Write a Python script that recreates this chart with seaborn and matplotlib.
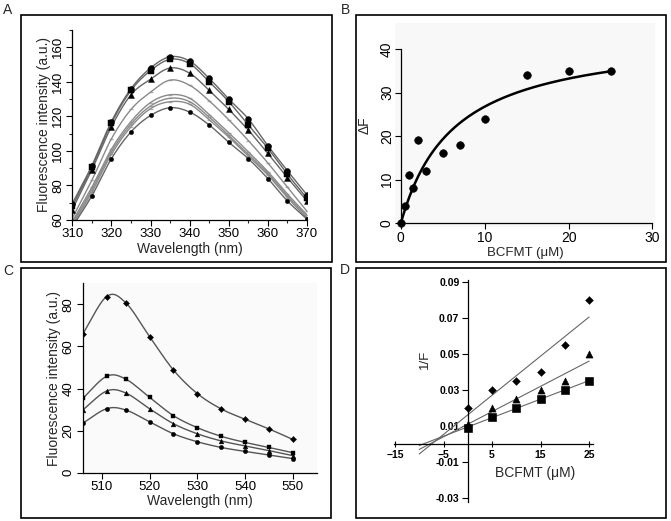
import numpy as np
import matplotlib
matplotlib.use("Agg")
import matplotlib.pyplot as plt
from matplotlib.patches import Rectangle
from matplotlib.ticker import MultipleLocator
import seaborn as sns

# ---- panel A: tryptophan emission spectra ----
wl_a = [310, 315, 320, 325, 330, 335, 340, 345, 350, 355, 360, 365, 370]
a_circle = [69.5, 91.5, 117, 136, 148, 154.5, 152, 142, 130, 118.5, 103, 88.5, 74.5]
a_square = [68, 90.5, 116, 135, 146.5, 153, 150.5, 140, 128.5, 115, 101.5, 86.5, 72.5]
a_triangle = [66, 89, 114, 132.5, 141.5, 148, 145, 135, 124, 112, 98.5, 84.5, 71]
a_gray1 = [61, 83, 107, 124, 134, 141, 138, 129, 118, 106, 93, 79, 65]
a_gray2 = [59, 79, 101, 117, 128, 132.5, 130.5, 121, 110.5, 99.5, 88, 75, 63]
a_gray3 = [58, 77.5, 99.5, 115.5, 126, 130.5, 128.5, 119.5, 109, 98, 87, 74, 62]
a_gray4 = [57, 76, 98, 114, 124.5, 128.5, 127, 118, 108, 97, 86, 73, 61]
a_bottom = [56, 74, 95.5, 111, 120.5, 125, 122.5, 115, 105, 95.5, 84, 71, 60.5]

# ---- panel B: binding curve ----
conc_b = [0, 0.5, 1, 1.5, 2, 3, 5, 7, 10, 15, 20, 25]
delta_f = [0, 4, 11, 8, 19, 12, 16, 18, 24, 34, 35, 35]

# ---- panel C: emission spectra ----
wl_c = [506, 511, 515, 520, 525, 530, 535, 540, 545, 550]
c_diamond = [65.9, 83.7, 80.8, 64.7, 48.8, 37.6, 30.3, 25.4, 20.8, 15.8]
c_square = [35.3, 45.8, 44.5, 35.8, 27.1, 21.4, 17.3, 14.4, 12.0, 9.5]
c_triangle = [29.8, 38.8, 37.9, 30.4, 23.3, 18.5, 15.1, 12.7, 10.5, 8.1]
c_circle = [23.5, 30.4, 29.8, 24.2, 18.5, 14.7, 12.0, 10.1, 8.4, 6.7]

# ---- panel D: double reciprocal plot ----
conc_d = [0, 5, 10, 15, 20, 25]
d_diamond = [0.020, 0.030, 0.035, 0.040, 0.055, 0.080]
d_triangle = [0.011, 0.020, 0.025, 0.030, 0.035, 0.050]
d_square = [0.009, 0.015, 0.020, 0.025, 0.030, 0.035]
d_yticks = [-0.03, -0.01, 0.01, 0.03, 0.05, 0.07, 0.09]
d_xticks = [-15, -5, 5, 15, 25]


def smooth(x, y, n=16):
    # Catmull-Rom curve through the measured points (drawing only)
    x = np.asarray(x, float)
    y = np.asarray(y, float)
    px = np.concatenate([[2 * x[0] - x[1]], x, [2 * x[-1] - x[-2]]])
    py = np.concatenate([[2 * y[0] - y[1]], y, [2 * y[-1] - y[-2]]])
    t = np.linspace(0, 1, n, endpoint=False)
    xs, ys = [], []
    for i in range(1, len(px) - 2):
        for p, out in ((px, xs), (py, ys)):
            p0, p1, p2, p3 = p[i - 1], p[i], p[i + 1], p[i + 2]
            out.extend(0.5 * (2 * p1 + (-p0 + p2) * t
                              + (2 * p0 - 5 * p1 + 4 * p2 - p3) * t ** 2
                              + (-p0 + 3 * p1 - 3 * p2 + p3) * t ** 3))
    xs.append(x[-1])
    ys.append(y[-1])
    return np.array(xs), np.array(ys)


def curve(ax, x, y, color="#666666", lw=1.0):
    xs, ys = smooth(x, y)
    sns.lineplot(x=xs, y=ys, sort=False, estimator=None, color=color, lw=lw, ax=ax)


sns.set_theme(style="white")
plt.rcParams["font.family"] = ["Liberation Sans", "DejaVu Sans"]
plt.rcParams["xtick.direction"] = "out"
plt.rcParams["ytick.direction"] = "out"

W, H = 671, 521
fig = plt.figure(figsize=(W / 100, H / 100), dpi=100)


def rect(l, t, r, b):
    return [l / W, (H - b) / H, (r - l) / W, (b - t) / H]


def ticks(ax, size=8.5):
    ax.tick_params(axis="both", which="major", length=4, width=0.8, labelsize=size,
                   bottom=True, left=True, pad=2, colors="black")
    ax.tick_params(axis="both", which="minor", length=2, width=0.8, bottom=True, left=True)
    for s in ("left", "bottom"):
        ax.spines[s].set_color("black")
        ax.spines[s].set_linewidth(0.9)
    sns.despine(ax=ax)


# panel A
ax = fig.add_axes(rect(72.3, 30, 307, 220))
for ys in (a_gray1, a_gray2, a_gray3, a_gray4):
    curve(ax, wl_a, ys, color="#8a8a8a")
    sns.scatterplot(x=wl_a, y=ys, marker="_", color="#b0b0b0", s=12, linewidth=1, ax=ax)
for ys, m, s in ((a_circle, "o", 18), (a_square, "s", 16), (a_triangle, "^", 18), (a_bottom, "o", 10)):
    curve(ax, wl_a, ys)
    sns.scatterplot(x=wl_a, y=ys, marker=m, color="black", edgecolor="black", s=s, ax=ax, zorder=3)
ax.set_xlim(310, 370)
ax.set_ylim(60, 170)
ax.set_xticks(range(310, 371, 10))
ax.set_yticks(range(60, 161, 20))
ax.xaxis.set_minor_locator(MultipleLocator(5))
ax.yaxis.set_minor_locator(MultipleLocator(10))
ticks(ax, 9.5)
plt.setp(ax.get_yticklabels(), rotation=90, va="center")
ax.set_xlabel("Wavelength (nm)", fontsize=10, labelpad=1)
ax.set_ylabel("Fluorescence intensity (a.u.)", fontsize=10, labelpad=1)

# panel B
ax = fig.add_axes(rect(395, 23, 655, 227))
ax.set_facecolor("#f8f8f8")
xb = np.asarray(conc_b, float)
yb = np.asarray(delta_f, float)
best = None
for kd in np.linspace(0.5, 30, 1200):
    f = xb / (kd + xb)
    bmax = (f @ yb) / (f @ f)
    sse = np.sum((yb - bmax * f) ** 2)
    if best is None or sse < best[0]:
        best = (sse, kd, bmax)
xfit = np.linspace(0, 25, 200)
sns.lineplot(x=xfit, y=best[2] * xfit / (best[1] + xfit), color="black", lw=1.8, ax=ax)
sns.scatterplot(x=conc_b, y=delta_f, color="black", edgecolor="black", s=30, ax=ax, zorder=3)
ax.set_xlim(-0.7, 30.3)
ax.set_ylim(-0.9, 46)
ax.spines["left"].set_position(("data", 0))
ax.spines["bottom"].set_position(("data", 0))
ax.spines["left"].set_bounds(0, 40)
ax.spines["bottom"].set_bounds(0, 30)
ax.set_xticks([0, 10, 20, 30])
ax.set_yticks([0, 10, 20, 30, 40])
ticks(ax, 10)
ax.tick_params(axis="y", pad=1)
plt.setp(ax.get_yticklabels(), rotation=90, va="center")
ax.set_xlabel("BCFMT (\u03bcM)", fontsize=9.5, labelpad=1)
ax.set_ylabel("\u0394F", fontsize=10, labelpad=6)

# panel C
ax = fig.add_axes(rect(82.7, 283.3, 316.7, 472.7))
ax.set_facecolor("#fafafa")
for ys, m, s in ((c_diamond, "D", 10), (c_square, "s", 10), (c_triangle, "^", 12), (c_circle, "o", 10)):
    curve(ax, wl_c, ys, color="#555555")
    sns.scatterplot(x=wl_c, y=ys, marker=m, color="black", edgecolor="black", s=s, ax=ax, zorder=3)
ax.set_xlim(506, 555)
ax.set_ylim(0, 90)
ax.set_xticks(range(510, 551, 10))
ax.set_yticks(range(0, 81, 20))
ticks(ax, 9.5)
plt.setp(ax.get_yticklabels(), rotation=90, va="center")
ax.set_xlabel("Wavelength (nm)", fontsize=10, labelpad=1)
ax.set_ylabel("Fluorescence intensity (a.u.)", fontsize=10, labelpad=1)

# panel D
ax = fig.add_axes(rect(394, 280, 593, 501.7))
xd = np.linspace(-10, 25, 50)
for ys, m, s in ((d_diamond, "D", 16), (d_triangle, "^", 26), (d_square, "s", 30)):
    k, b = np.polyfit(conc_d, ys, 1)
    sns.lineplot(x=xd, y=k * xd + b, color="#666666", lw=0.8, ax=ax)
    sns.scatterplot(x=conc_d, y=ys, marker=m, color="black", edgecolor="black", s=s, ax=ax, zorder=3)
ax.set_xlim(-15.2, 25.8)
ax.set_ylim(-0.032, 0.091)
ax.spines["left"].set_position(("data", 0))
ax.spines["bottom"].set_position(("data", 0))
ax.set_xticks(d_xticks)
ax.set_yticks(d_yticks)
ax.set_yticklabels([f"{v:.2f}" for v in d_yticks])
ticks(ax, 7.5)
ax.tick_params(axis="x", direction="inout", length=5)
for lab in ax.get_xticklabels() + ax.get_yticklabels():
    lab.set_fontweight("bold")
ax.set_xlabel("BCFMT (\u03bcM)", fontsize=10)
ax.set_ylabel("1/F", fontsize=9.5)
ax.xaxis.set_label_coords(0.709, 0.16)
ax.yaxis.set_label_coords(0.186, 0.64)

# panel frames and letters
for l, t, r, b in ((21, 15, 332, 262), (356, 15, 666, 262), (21, 268, 331, 518), (356, 268, 666, 518)):
    fig.patches.append(Rectangle((l / W, (H - b) / H), (r - l) / W, (b - t) / H,
                                 transform=fig.transFigure, fill=False, ec="black", lw=1.2))
for txt, x, y in (("A", 8, 10), ("B", 345, 10), ("C", 8, 271), ("D", 345, 270)):
    fig.text(x / W, 1 - y / H, txt, fontsize=10, ha="center", va="center")

fig.savefig("out.png", dpi=100)
